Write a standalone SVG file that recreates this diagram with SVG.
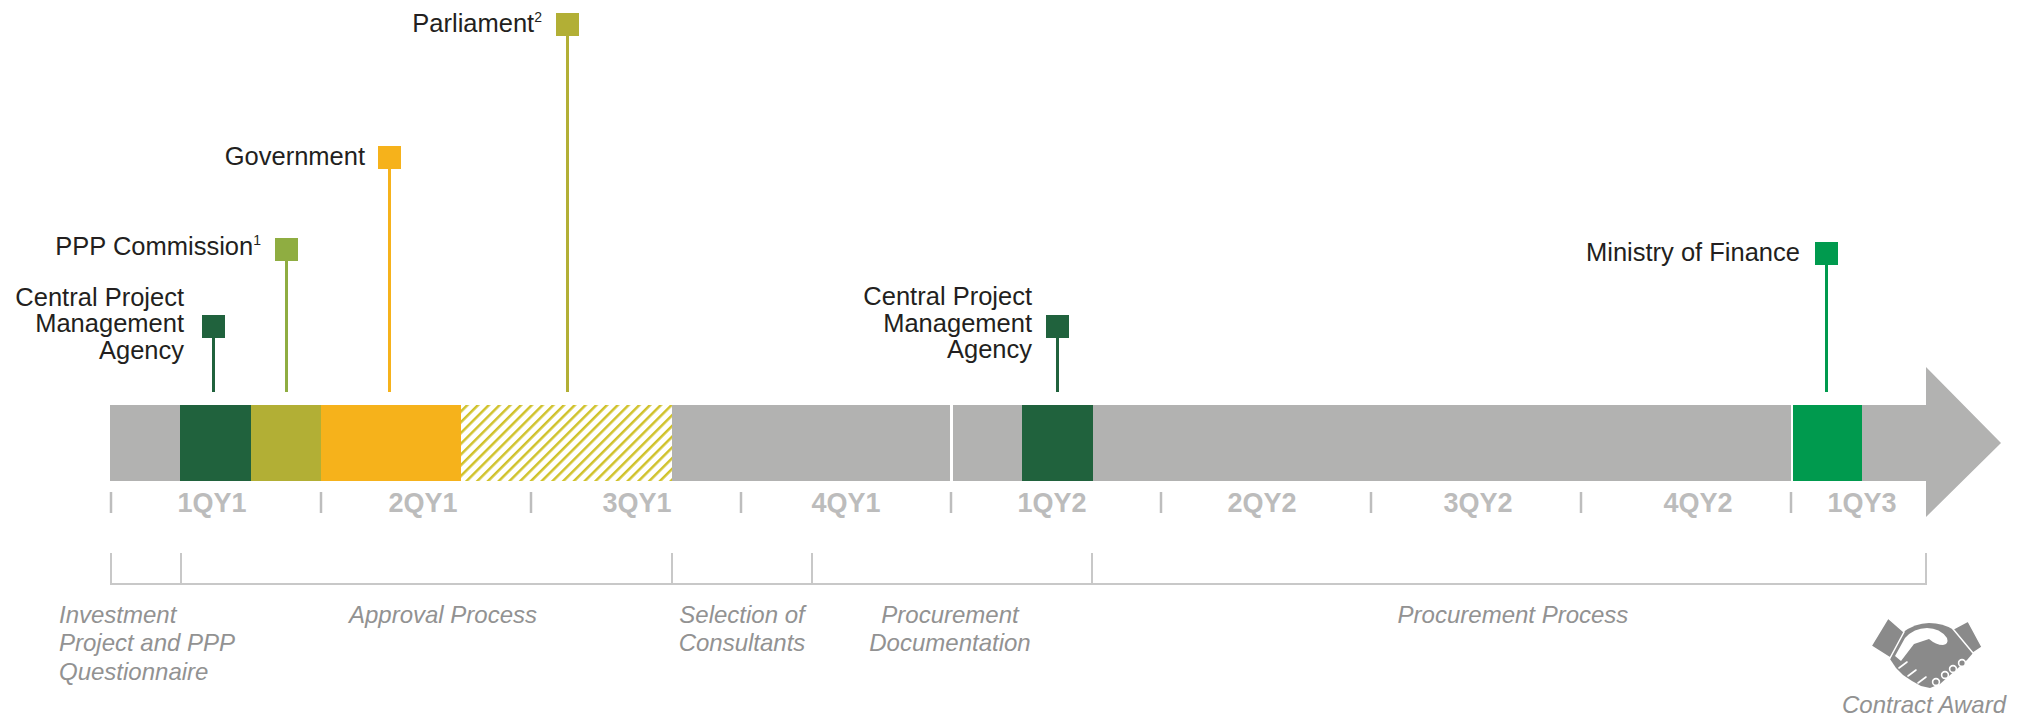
<svg xmlns="http://www.w3.org/2000/svg" width="2036" height="718" viewBox="0 0 2036 718">
<style>
.lbl{font-family:"Liberation Sans",Arial,sans-serif;font-size:25.5px;fill:#231f20;text-anchor:end}
.sup{font-size:14px}
.q{font-family:"Liberation Sans",Arial,sans-serif;font-size:27px;font-weight:bold;fill:#bcbcbc;text-anchor:middle}
.ph{font-family:"Liberation Sans",Arial,sans-serif;font-size:24px;font-style:italic;fill:#929292}
.tick{stroke:#bdbdbd;stroke-width:2.5}
.br{stroke:#c8c8c8;stroke-width:2;fill:none}
.stem{stroke-width:3}
</style>
<defs>
<pattern id="hatch" width="7.6" height="7.6" patternUnits="userSpaceOnUse" patternTransform="rotate(45)">
<rect width="7.6" height="7.6" fill="#ffffff"/>
<rect width="2.5" height="7.6" fill="#d0c22b"/>
</pattern>
</defs>
<rect width="2036" height="718" fill="#ffffff"/>

<g id="timeline-bar">
<polygon points="110,405 1926,405 1926,367 2001,443 1926,517 1926,481 110,481" fill="#b2b2b1"/>
<rect x="180" y="405" width="71" height="76" fill="#20623d"/>
<rect x="251" y="405" width="70" height="76" fill="#b2af35"/>
<rect x="321" y="405" width="140" height="76" fill="#f6b21b"/>
<rect x="461" y="405" width="211" height="76" fill="url(#hatch)"/>
<rect x="950" y="405" width="3" height="76" fill="#ffffff"/>
<rect x="1022" y="405" width="71" height="76" fill="#20623d"/>
<rect x="1791" y="405" width="2" height="76" fill="#ffffff"/>
<rect x="1793" y="405" width="69" height="76" fill="#009a4e"/>
</g>

<g id="quarters">
<line class="tick" x1="111" y1="492" x2="111" y2="513"/>
<line class="tick" x1="321" y1="492" x2="321" y2="513"/>
<line class="tick" x1="531" y1="492" x2="531" y2="513"/>
<line class="tick" x1="741" y1="492" x2="741" y2="513"/>
<line class="tick" x1="951" y1="492" x2="951" y2="513"/>
<line class="tick" x1="1161" y1="492" x2="1161" y2="513"/>
<line class="tick" x1="1371" y1="492" x2="1371" y2="513"/>
<line class="tick" x1="1581" y1="492" x2="1581" y2="513"/>
<line class="tick" x1="1791" y1="492" x2="1791" y2="513"/>
<text class="q" x="212" y="512">1QY1</text>
<text class="q" x="423" y="512">2QY1</text>
<text class="q" x="637" y="512">3QY1</text>
<text class="q" x="846" y="512">4QY1</text>
<text class="q" x="1052" y="512">1QY2</text>
<text class="q" x="1262" y="512">2QY2</text>
<text class="q" x="1478" y="512">3QY2</text>
<text class="q" x="1698" y="512">4QY2</text>
<text class="q" x="1862" y="512">1QY3</text>
</g>

<g id="phases">
<path class="br" d="M111,553 V584 H1926 V553 M181,553 V584 M672,553 V584 M812,553 V584 M1092,553 V584"/>
<text class="ph" x="59" y="623">Investment</text>
<text class="ph" x="59" y="651">Project and PPP</text>
<text class="ph" x="59" y="680">Questionnaire</text>
<text class="ph" x="443" y="623" text-anchor="middle">Approval Process</text>
<text class="ph" x="742" y="623" text-anchor="middle">Selection of</text>
<text class="ph" x="742" y="651" text-anchor="middle">Consultants</text>
<text class="ph" x="950" y="623" text-anchor="middle">Procurement</text>
<text class="ph" x="950" y="651" text-anchor="middle">Documentation</text>
<text class="ph" x="1513" y="623" text-anchor="middle">Procurement Process</text>
</g>

<g id="connectors">
<line class="stem" x1="213.5" y1="338" x2="213.5" y2="392" stroke="#20623d"/>
<line class="stem" x1="286.5" y1="261" x2="286.5" y2="392" stroke="#8fad41"/>
<line class="stem" x1="389.5" y1="169" x2="389.5" y2="392" stroke="#f6b21b"/>
<line class="stem" x1="567.5" y1="36" x2="567.5" y2="392" stroke="#b2af35"/>
<line class="stem" x1="1057.5" y1="338" x2="1057.5" y2="392" stroke="#20623d"/>
<line class="stem" x1="1826.5" y1="265" x2="1826.5" y2="392" stroke="#009a4e"/>
</g>

<g id="cpma-1">
<rect x="202" y="315" width="23" height="23" fill="#20623d"/>
<text class="lbl" x="184" y="306">Central Project</text>
<text class="lbl" x="184" y="332">Management</text>
<text class="lbl" x="184" y="359">Agency</text>
</g>

<g id="ppp-commission">
<rect x="275" y="238" width="23" height="23" fill="#8fad41"/>
<text class="lbl" x="261" y="255">PPP Commission<tspan class="sup" dy="-10">1</tspan></text>
</g>

<g id="government">
<rect x="378" y="146" width="23" height="23" fill="#f6b21b"/>
<text class="lbl" x="365" y="165">Government</text>
</g>

<g id="parliament">
<rect x="556" y="13" width="23" height="23" fill="#b2af35"/>
<text class="lbl" x="542" y="32">Parliament<tspan class="sup" dy="-10">2</tspan></text>
</g>

<g id="cpma-2">
<rect x="1046" y="315" width="23" height="23" fill="#20623d"/>
<text class="lbl" x="1032" y="305">Central Project</text>
<text class="lbl" x="1032" y="332">Management</text>
<text class="lbl" x="1032" y="358">Agency</text>
</g>

<g id="ministry-of-finance">
<rect x="1815" y="242" width="23" height="23" fill="#009a4e"/>
<text class="lbl" x="1800" y="261">Ministry of Finance</text>
</g>

<g id="contract-award">
<path d="M1902,633 Q1915,623 1929,623 Q1943,623 1954,630 L1973,653 L1967,660 L1940,684 L1930,688 L1921,686 L1912,681 L1903,675 L1896,668 L1890,659 Z" fill="#8a8a8a"/>
<path d="M1895,656 L1905,638 Q1914,628 1927,628 Q1940,628 1947,638 Q1949,644 1943,645 Q1936,645 1929,639 L1914,644 L1901,661 Z" fill="#ffffff"/>
<g stroke="#ffffff" stroke-width="1.6" stroke-linecap="round">
<line x1="1899" y1="668" x2="1907" y2="662"/>
<line x1="1908" y1="676" x2="1916" y2="670"/>
<line x1="1918" y1="683" x2="1926" y2="677"/>
</g>
<g fill="#8a8a8a" stroke="#ffffff" stroke-width="1.6">
<circle cx="1962" cy="663" r="3.4"/>
<circle cx="1953" cy="669" r="3.4"/>
<circle cx="1945" cy="675" r="3.4"/>
<circle cx="1936" cy="682" r="3.4"/>
</g>
<polygon points="1888,618 1871,646 1890,658 1904,632" fill="#8a8a8a" stroke="#ffffff" stroke-width="1.5"/>
<polygon points="1968,621 1982,647 1973,653 1953,629" fill="#8a8a8a" stroke="#ffffff" stroke-width="1.5"/>
<text class="ph" x="1924" y="713" text-anchor="middle">Contract Award</text>
</g>
</svg>
